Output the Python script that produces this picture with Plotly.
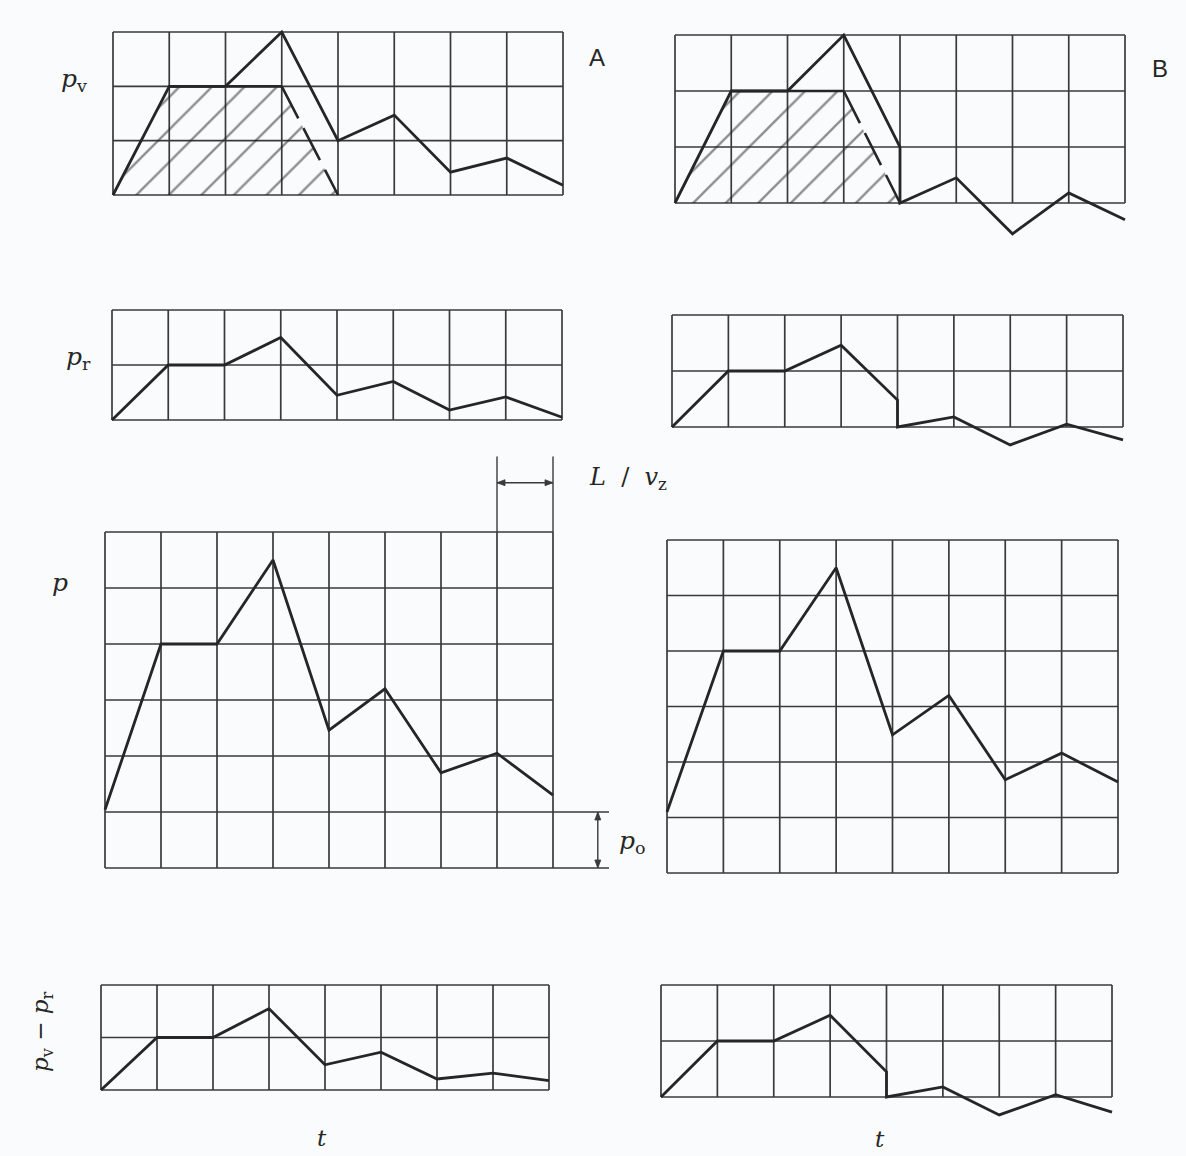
import plotly.graph_objects as go

# ---------------- data (values in grid units) ----------------
t = [0, 1, 2, 3, 4, 5, 6, 7, 8]
t_B = [0, 1, 2, 3, 4, 4, 5, 6, 7, 8]          # case B has a vertical drop at t = 4

pv_A = [0, 2, 2, 3, 1.0, 1.47, 0.42, 0.68, 0.18]
pv_B = [0, 2, 2, 3, 1.0, 0, 0.45, -0.55, 0.18, -0.3]
pr_A = [0, 1, 1, 1.5, 0.45, 0.7, 0.18, 0.42, 0.05]
pr_B = [0, 1, 1, 1.46, 0.48, 0, 0.18, -0.32, 0.05, -0.23]
p_A = [1.04, 4, 4, 5.5, 2.46, 3.2, 1.7, 2.05, 1.3]
p_B = [1.1, 4, 4, 5.5, 2.49, 3.2, 1.68, 2.16, 1.64]
d_A = [0, 1, 1, 1.55, 0.48, 0.72, 0.21, 0.32, 0.18]
d_B = [0, 1, 1, 1.46, 0.45, 0, 0.18, -0.32, 0.04, -0.27]

# incident wave (hatched trapezoid, dashed tail)
hatch_t = [0, 1, 3, 4]
hatch_v = [0, 2, 2, 0]

# ---------------- styling / geometry ----------------
W, H = 1186, 1156
INK = "#262626"
GRID = "#3a3a3a"
PAD = 0.08

# grid box of each panel in pixels, number of rows, lowest value shown
panels = [
    dict(x0=113, x1=563, y0=32, y1=195, ny=3, ymin=0),        # 1 A pv
    dict(x0=675, x1=1125, y0=35, y1=203, ny=3, ymin=-0.65),   # 2 B pv
    dict(x0=112, x1=562, y0=310, y1=420, ny=2, ymin=0),       # 3 A pr
    dict(x0=672, x1=1123, y0=315, y1=427, ny=2, ymin=-0.4),   # 4 B pr
    dict(x0=105, x1=553, y0=532, y1=868, ny=6, ymin=0),       # 5 A p
    dict(x0=667, x1=1118, y0=540, y1=873, ny=6, ymin=0),      # 6 B p
    dict(x0=101, x1=549, y0=985, y1=1090, ny=2, ymin=0),      # 7 A pv-pr
    dict(x0=661, x1=1112, y0=985, y1=1097, ny=2, ymin=-0.4),  # 8 B pv-pr
]

series = [
    (t, pv_A), (t_B, pv_B),
    (t, pr_A), (t_B, pr_B),
    (t, p_A), (t, p_B),
    (t, d_A), (t_B, d_B),
]

fig = go.Figure()
layout_axes = {}
shapes = []


def units(pn):
    return (pn["x1"] - pn["x0"]) / 8.0, (pn["y1"] - pn["y0"]) / pn["ny"]


def to_px(pn, x, y):
    ux, uy = units(pn)
    return pn["x0"] + x * ux, pn["y1"] - y * uy


def pp(px, py):
    return px / W, 1 - py / H


for i, pn in enumerate(panels, start=1):
    ux, uy = units(pn)
    xr = [-PAD, 8 + PAD]
    yr = [pn["ymin"] - PAD, pn["ny"] + PAD]
    dx = [(pn["x0"] - PAD * ux) / W, (pn["x1"] + PAD * ux) / W]
    top_px = pn["y0"] - PAD * uy
    bot_px = pn["y1"] + (PAD - pn["ymin"]) * uy
    dy = [1 - bot_px / H, 1 - top_px / H]
    sx = "" if i == 1 else str(i)
    layout_axes["xaxis" + sx] = dict(domain=dx, range=xr, visible=False, fixedrange=True)
    layout_axes["yaxis" + sx] = dict(domain=dy, range=yr, visible=False, fixedrange=True,
                                     anchor="x" + sx)
    xref, yref = "x" + sx, "y" + sx
    # grid
    for k in range(9):
        shapes.append(dict(type="line", xref=xref, yref=yref, x0=k, x1=k, y0=0, y1=pn["ny"],
                           line=dict(color=GRID, width=1.7), layer="below"))
    for j in range(pn["ny"] + 1):
        shapes.append(dict(type="line", xref=xref, yref=yref, x0=0, x1=8, y0=j, y1=j,
                           line=dict(color=GRID, width=1.7), layer="below"))

    # hatched incident wave in the p_v panels
    if i in (1, 2):
        fig.add_trace(go.Scatter(
            x=hatch_t + [hatch_t[0]], y=hatch_v + [hatch_v[0]], xaxis=xref, yaxis=yref,
            mode="lines", fill="toself", line=dict(width=0, color="rgba(0,0,0,0)"),
            fillcolor="rgba(0,0,0,0)",
            fillpattern=dict(shape="/", size=23, solidity=0.1, fgcolor="#1e1e1e",
                             bgcolor="rgba(255,255,255,0)"),
            hoverinfo="skip", showlegend=False))
        fig.add_trace(go.Scatter(
            x=hatch_t[1:3], y=hatch_v[1:3], xaxis=xref, yaxis=yref, mode="lines",
            line=dict(color=INK, width=2.6), hoverinfo="skip", showlegend=False))
        fig.add_trace(go.Scatter(
            x=hatch_t[2:4], y=hatch_v[2:4], xaxis=xref, yaxis=yref, mode="lines",
            line=dict(color=INK, width=2.6, dash="36px,11px"), hoverinfo="skip",
            showlegend=False))

    xs, ys = series[i - 1]
    fig.add_trace(go.Scatter(x=xs, y=ys, xaxis=xref, yaxis=yref, mode="lines",
                             line=dict(color=INK, width=2.8), showlegend=False))

# ---------------- dimension marks around A p (panel 5) ----------------
pA = panels[4]
dim_lines = [((7, 6), (7, 7.35)), ((8, 6), (8, 7.35)),
             ((8, 1), (9.0, 1)), ((8, 0), (9.0, 0)),
             ((7, 6.88), (8, 6.88)), ((8.8, 0), (8.8, 1))]
for (xa, ya), (xb, yb) in dim_lines:
    px0, py0 = pp(*to_px(pA, xa, ya))
    px1, py1 = pp(*to_px(pA, xb, yb))
    shapes.append(dict(type="line", xref="paper", yref="paper", x0=px0, y0=py0, x1=px1, y1=py1,
                       line=dict(color=GRID, width=1.4)))

# arrowheads: tip (units) and direction in pixels
heads = [((7, 6.88), (-1, 0)), ((8, 6.88), (1, 0)),
         ((8.8, 1), (0, -1)), ((8.8, 0), (0, 1))]
L_HEAD, W_HEAD = 8.0, 3.0
for (hx, hy), (dxp, dyp) in heads:
    tx, ty = to_px(pA, hx, hy)
    bx, by = tx - dxp * L_HEAD, ty - dyp * L_HEAD
    nx, ny_ = -dyp, dxp
    pts = [(tx, ty), (bx + nx * W_HEAD, by + ny_ * W_HEAD), (bx - nx * W_HEAD, by - ny_ * W_HEAD)]
    path = "M " + " L ".join("%.5f,%.5f" % pp(a, b) for a, b in pts) + " Z"
    shapes.append(dict(type="path", xref="paper", yref="paper", path=path,
                       fillcolor=GRID, line=dict(color=GRID, width=0.8)))

# ---------------- labels ----------------
SERIF = "DejaVu Serif"
annotations = []
labels = [
    (74, 80, "<i>p</i><sub>v</sub>", 0, 25),
    (78, 358, "<i>p</i><sub>r</sub>", 0, 25),
    (60, 582, "<i>p</i>", 0, 25),
    (42, 1032, "<i>p</i><sub>v</sub> − <i>p</i><sub>r</sub>", -90, 23),
    (322, 1138, "<i>t</i>", 0, 23),
    (880, 1139, "<i>t</i>", 0, 23),
    (628, 478, "<i>L</i>  /  <i>v</i><sub>z</sub>", 0, 24),
    (632, 842, "<i>p</i><sub>o</sub>", 0, 25),
]
for x, y, txt, ang, sz in labels:
    annotations.append(dict(x=x / W, y=1 - y / H, xref="paper", yref="paper", text=txt,
                            showarrow=False, textangle=ang, xanchor="center", yanchor="middle",
                            font=dict(family=SERIF, size=sz, color=INK)))
for x, y, txt in [(597, 58, "A"), (1160, 68, "B")]:
    annotations.append(dict(x=x / W, y=1 - y / H, xref="paper", yref="paper", text=txt,
                            showarrow=False, xanchor="center", yanchor="middle",
                            font=dict(family="Liberation Sans", size=24, color=INK)))

fig.update_layout(
    width=W, height=H, margin=dict(l=0, r=0, t=0, b=0),
    paper_bgcolor="#fafbfc", plot_bgcolor="rgba(0,0,0,0)",
    showlegend=False, shapes=shapes, annotations=annotations, **layout_axes)

fig.write_html("out.html", config={"displayModeBar": False},
               post_script="document.body.style.margin='0';")
